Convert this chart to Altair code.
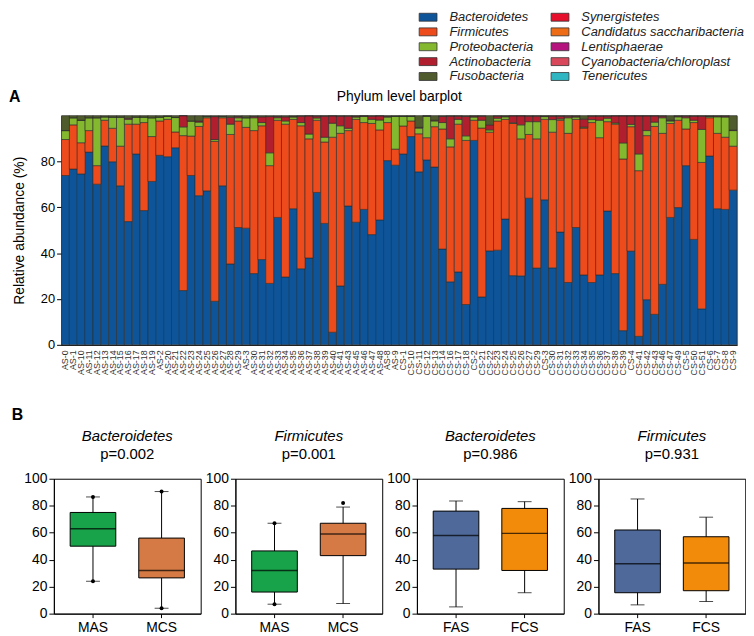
import altair as alt
import pandas as pd

FONT = "Liberation Sans"

samples = [
    "AS-0", "AS-1", "AS-10", "AS-11", "AS-12", "AS-13", "AS-14", "AS-15", "AS-16", "AS-17",
    "AS-18", "AS-19", "AS-2", "AS-20", "AS-21", "AS-22", "AS-23", "AS-24", "AS-25", "AS-26",
    "AS-27", "AS-28", "AS-29", "AS-3", "AS-30", "AS-31", "AS-32", "AS-33", "AS-34", "AS-35",
    "AS-36", "AS-37", "AS-38", "AS-39", "AS-40", "AS-41", "AS-43", "AS-45", "AS-46", "AS-47",
    "AS-48", "AS-8", "AS-9",
    "CS-1", "CS-10", "CS-11", "CS-12", "CS-13", "CS-14", "CS-16", "CS-17", "CS-18", "CS-2",
    "CS-21", "CS-22", "CS-23", "CS-24", "CS-25", "CS-26", "CS-27", "CS-29", "CS-3", "CS-30",
    "CS-31", "CS-32", "CS-33", "CS-34", "CS-35", "CS-36", "CS-37", "CS-38", "CS-39", "CS-4",
    "CS-41", "CS-42", "CS-43", "CS-46", "CS-47", "CS-49", "CS-5", "CS-50", "CS-51", "CS-6",
    "CS-7", "CS-8", "CS-9",
]

bacteroidetes = [
    73.9, 76.7, 74.6, 84.1, 70.1, 86.8, 79.9, 69.4, 53.8, 83.3,
    58.6, 71.3, 82.7, 82.1, 86.0, 23.7, 73.9, 65.1, 67.2, 19.0,
    69.4, 35.3, 51.2, 50.9, 31.1, 37.2, 26.8, 55.6, 29.6, 59.4,
    33.2, 37.9, 66.5, 53.0, 5.5, 25.7, 60.6, 53.5, 59.1, 48.1,
    54.5, 80.4, 78.4,
    83.3, 90.9, 75.5, 80.7, 77.6, 41.8, 27.5, 31.8, 17.6, 89.2,
    20.9, 41.0, 41.3, 54.9, 30.2, 30.1, 64.0, 33.5, 63.3, 33.6,
    49.2, 27.2, 51.2, 30.5, 27.2, 30.5, 58.4, 31.1, 6.2, 40.9,
    3.7, 19.7, 13.3, 26.4, 55.6, 59.9, 78.2, 46.0, 15.7, 82.4,
    59.4, 59.1, 67.5,
]
firmicutes = [
    15.7, 19.3, 13.6, 9.4, 8.1, 11.2, 14.6, 17.3, 42.5, 13.0,
    38.4, 19.6, 15.0, 16.3, 6.9, 67.6, 17.2, 30.2, 31.9, 69.8,
    29.7, 56.5, 46.5, 44.0, 62.4, 58.4, 51.4, 42.4, 66.7, 39.0,
    62.4, 52.0, 31.5, 35.5, 85.1, 66.6, 32.9, 44.9, 37.9, 48.5,
    39.3, 16.6, 7.0,
    12.2, 6.8, 16.6, 9.7, 17.6, 52.4, 58.9, 64.5, 71.6, 8.8,
    73.7, 51.8, 56.4, 43.5, 66.4, 59.8, 27.8, 56.4, 35.1, 59.2,
    48.8, 65.1, 47.2, 64.1, 69.8, 59.9, 39.0, 65.2, 74.9, 54.3,
    72.3, 71.6, 82.0, 65.9, 41.0, 38.1, 16.0, 51.0, 63.9, 16.7,
    32.9, 31.5, 19.2,
]
proteobacteria = [
    3.9, 3.1, 9.8, 5.6, 20.9, 1.5, 4.9, 12.7, 2.1, 3.1,
    2.4, 8.2, 1.7, 1.3, 6.3, 3.8, 6.6, 1.9, 0.5, 0.8,
    0.5, 4.5, 1.4, 4.2, 5.6, 1.4, 5.6, 1.1, 1.4, 1.0,
    1.4, 2.1, 1.0, 2.1, 6.1, 3.3, 1.0, 1.0, 2.7, 1.8,
    4.3, 2.4, 14.3,
    4.2, 2.0, 2.5, 9.4, 2.5, 2.8, 3.5, 2.1, 2.0, 1.4,
    3.4, 1.0, 1.2, 1.1, 0.3, 6.1, 5.6, 7.5, 1.2, 5.5,
    0.6, 6.8, 1.0, 0.4, 1.3, 7.6, 1.5, 0.5, 7.0, 1.0,
    7.3, 2.2, 1.9, 6.8, 1.1, 1.5, 4.9, 1.0, 14.4, 0.5,
    7.2, 8.8, 6.8,
]
actinobacteria = [
    0.0, 0.0, 0.0, 0.0, 0.0, 0.0, 0.0, 0.0, 0.5, 0.0,
    0.0, 0.0, 0.0, 0.0, 0.0, 4.9, 0.0, 0.5, 0.0, 10.0,
    0.0, 3.0, 0.5, 0.0, 0.5, 2.5, 15.8, 0.5, 1.8, 0.3,
    2.8, 7.9, 0.8, 9.2, 3.2, 4.2, 5.3, 0.4, 0.2, 1.4,
    1.8, 0.3, 0.0,
    0.0, 0.0, 0.3, 0.0, 0.3, 2.7, 9.9, 1.4, 8.5, 0.4,
    1.8, 2.2, 0.9, 0.3, 3.0, 3.9, 2.4, 2.4, 0.2, 1.5,
    1.2, 0.7, 0.4, 3.5, 1.5, 1.8, 0.9, 3.1, 11.8, 3.7,
    16.6, 6.4, 2.7, 0.7, 0.3, 0.3, 0.7, 1.8, 5.8, 0.2,
    0.3, 0.4, 0.2,
]
fusobacteria = [
    6.5, 0.9, 2.0, 0.9, 0.9, 0.5, 0.6, 0.6, 1.1, 0.6,
    0.6, 0.9, 0.6, 0.3, 0.8, 0.0, 2.3, 2.3, 0.4, 0.4,
    0.4, 0.7, 0.4, 0.9, 0.4, 0.5, 0.4, 0.4, 0.5, 0.3,
    0.2, 0.1, 0.2, 0.2, 0.1, 0.2, 0.2, 0.2, 0.1, 0.2,
    0.1, 0.3, 0.3,
    0.3, 0.3, 5.1, 0.2, 2.0, 0.3, 0.2, 0.2, 0.3, 0.2,
    0.2, 4.0, 0.2, 0.2, 0.1, 0.1, 0.2, 0.2, 0.2, 0.2,
    0.2, 0.2, 0.2, 1.5, 0.2, 0.2, 0.2, 0.1, 0.1, 0.1,
    0.1, 0.1, 0.1, 0.2, 2.0, 0.2, 0.2, 0.2, 0.2, 0.2,
    0.2, 0.2, 6.3,
]

phyla = [
    "Bacteroidetes", "Firmicutes", "Proteobacteria", "Actinobacteria", "Fusobacteria",
    "Synergistetes", "Candidatus saccharibacteria", "Lentisphaerae",
    "Cyanobacteria/chloroplast", "Tenericutes",
]
phylum_colors = [
    "#0d5499", "#ee4b1d", "#84b82f", "#b11f2f", "#4f5b2c",
    "#e60f2c", "#ef6c16", "#b5137e", "#d9475a", "#2fb6c2",
]

# box plot summaries (panel B)
box_titles = ["Bacteroidetes", "Firmicutes", "Bacteroidetes", "Firmicutes"]
box_pvalues = ["p=0.002", "p=0.001", "p=0.986", "p=0.931"]
box_groups = [["MAS", "MCS"], ["MAS", "MCS"], ["FAS", "FCS"], ["FAS", "FCS"]]
box_colors = [["#18a34a", "#d57a45"], ["#18a34a", "#d57a45"],
              ["#4f6a9a", "#f28a0a"], ["#4f6a9a", "#f28a0a"]]
box_low = [[24, 4], [7, 7.5], [5, 15.5], [6.5, 9]]
box_q1 = [[50, 26.5], [16, 43], [33, 32], [15.5, 17]]
box_median = [[63, 32], [32, 59], [58, 59.5], [37, 37.5]]
box_q3 = [[75, 56], [46.5, 67], [76, 78], [62, 57]]
box_high = [[86.5, 90.5], [67, 79], [83.5, 83], [85, 71.5]]
box_points = [
    [("MAS", 86.5), ("MAS", 24), ("MCS", 90.5), ("MCS", 4)],
    [("MAS", 67), ("MAS", 7), ("MCS", 82)],
    [],
    [],
]

# ---------------- Panel A ----------------
series = [bacteroidetes, firmicutes, proteobacteria, actinobacteria, fusobacteria]
rows = []
for rank, (name, vals) in enumerate(zip(phyla, series)):
    for s, v in zip(samples, vals):
        rows.append({"sample": s, "phylum": name, "value": v, "rank": rank})
bar_df = pd.DataFrame(rows)

TOP_W, TOP_H = 681, 231

bars = alt.Chart(bar_df).mark_bar(stroke="#2a2a2a", strokeWidth=0.6).encode(
    x=alt.X("sample:N", sort=samples,
            scale=alt.Scale(paddingInner=0, paddingOuter=0),
            axis=alt.Axis(title=None, labelAngle=270, labelFontSize=9, labelColor="#333",
                          ticks=False, labelPadding=5, domainColor="black",
                          labelOverlap=False)),
    y=alt.Y("value:Q", stack="normalize", scale=alt.Scale(domain=[0, 1], nice=False),
            axis=alt.Axis(values=[0, 0.2, 0.4, 0.6, 0.8],
                          labelExpr="round(datum.value*100)", labelOverlap=False,
                          title="Relative abundance (%)", titleFontSize=14,
                          titleFontWeight="normal", titleColor="black",
                          labelFontSize=13, labelColor="black", tickSize=5,
                          tickColor="black", domainColor="black", grid=False,
                          titlePadding=14)),
    color=alt.Color("phylum:N",
                    scale=alt.Scale(domain=phyla, range=phylum_colors),
                    legend=alt.Legend(title=None, orient="none", legendX=371, legendY=-106,
                                      columns=2, padding=0, rowPadding=1, columnPadding=15,
                                      symbolType="M-1.8,-0.8L1.8,-0.8L1.8,0.8L-1.8,0.8Z",
                                      symbolSize=100, symbolStrokeColor="#333",
                                      symbolStrokeWidth=0.8, symbolOpacity=1,
                                      labelFontSize=13, labelFontStyle="italic",
                                      labelColor="#222", labelOffset=15, labelLimit=300)),
    order=alt.Order("rank:Q", sort="ascending"),
)

label_a = alt.Chart(pd.DataFrame({"label": ["A"]})).mark_text(
    fontSize=16, fontWeight="bold", align="left", baseline="middle", color="black"
).encode(x=alt.value(-53), y=alt.value(-19), text="label:N")

title_a = alt.Chart(pd.DataFrame({"label": ["Phylum level barplot"]})).mark_text(
    fontSize=14, align="center", baseline="middle", color="black"
).encode(x=alt.value(TOP_W / 2), y=alt.value(-19), text="label:N")

top = alt.layer(bars, label_a, title_a).properties(
    width=TOP_W, height=TOP_H, view=alt.ViewBackground(stroke="#9a9a9a")
)

# ---------------- Panel B ----------------
PANEL_W, PANEL_H = 148, 136
panels = []
for k in range(4):
    g = box_groups[k]
    df = pd.DataFrame({
        "group": g, "fill": box_colors[k],
        "low": box_low[k], "q1": box_q1[k], "median": box_median[k],
        "q3": box_q3[k], "high": box_high[k],
    })
    x = alt.X("group:N", sort=g, scale=alt.Scale(paddingInner=0.3, paddingOuter=0.22),
              axis=alt.Axis(title=None, labelAngle=0, labelFontSize=14, labelColor="black",
                            tickColor="black", tickSize=4, domainColor="black",
                            labelPadding=3))
    yax = alt.Axis(values=[0, 20, 40, 60, 80, 100], grid=False, title=None,
                   labelFontSize=14, labelColor="black", tickSize=5, tickColor="black",
                   domainColor="black", labelPadding=2, labelOverlap=False,
                   labelFlush=False, minExtent=42 if k == 0 else 30)
    ysc = alt.Scale(domain=[0, 100], nice=False)
    base = alt.Chart(df)
    whisk = base.mark_rule(color="black", strokeWidth=1).encode(
        x=x, y=alt.Y("low:Q", scale=ysc, axis=yax), y2="high:Q")
    box = base.mark_bar(size=46, stroke="black", strokeWidth=1).encode(
        x=x, y=alt.Y("q1:Q", scale=ysc, axis=yax), y2="q3:Q",
        fill=alt.Fill("fill:N", scale=None))
    med = base.mark_tick(color="black", size=46, thickness=1.5).encode(
        x=x, y=alt.Y("median:Q", scale=ysc, axis=yax))
    cap_lo = base.mark_tick(color="black", size=14, thickness=1).encode(
        x=x, y=alt.Y("low:Q", scale=ysc, axis=yax))
    cap_hi = base.mark_tick(color="black", size=14, thickness=1).encode(
        x=x, y=alt.Y("high:Q", scale=ysc, axis=yax))
    layers = [whisk, box, med, cap_lo, cap_hi]
    if box_points[k]:
        pts = pd.DataFrame(box_points[k], columns=["group", "value"])
        dots = alt.Chart(pts).mark_point(filled=True, color="black", size=16, opacity=1).encode(
            x=x, y=alt.Y("value:Q", scale=ysc, axis=yax))
        layers.append(dots)
    panel = alt.layer(*layers).properties(
        width=PANEL_W, height=PANEL_H,
        view=alt.ViewBackground(stroke="black"),
        title=alt.TitleParams(box_titles[k], subtitle=box_pvalues[k], fontSize=15,
                              fontStyle="italic", fontWeight="normal", color="black",
                              subtitleFontSize=15, subtitleColor="black",
                              subtitleFontStyle="normal", subtitlePadding=3,
                              anchor="middle", offset=10),
    )
    panels.append(panel)

bottom = alt.hconcat(*panels, spacing=3).resolve_scale(x="independent", y="independent").properties(
    title=alt.TitleParams("B", anchor="start", fontSize=16, fontWeight="bold",
                          color="black", offset=6)
)

chart = alt.vconcat(top, bottom, spacing=30, center=True).properties(
    padding={"left": 0, "top": 0, "right": 0, "bottom": 0}
).configure(font=FONT)

chart.save("out.html", embed_options={"renderer": "svg", "actions": False})
